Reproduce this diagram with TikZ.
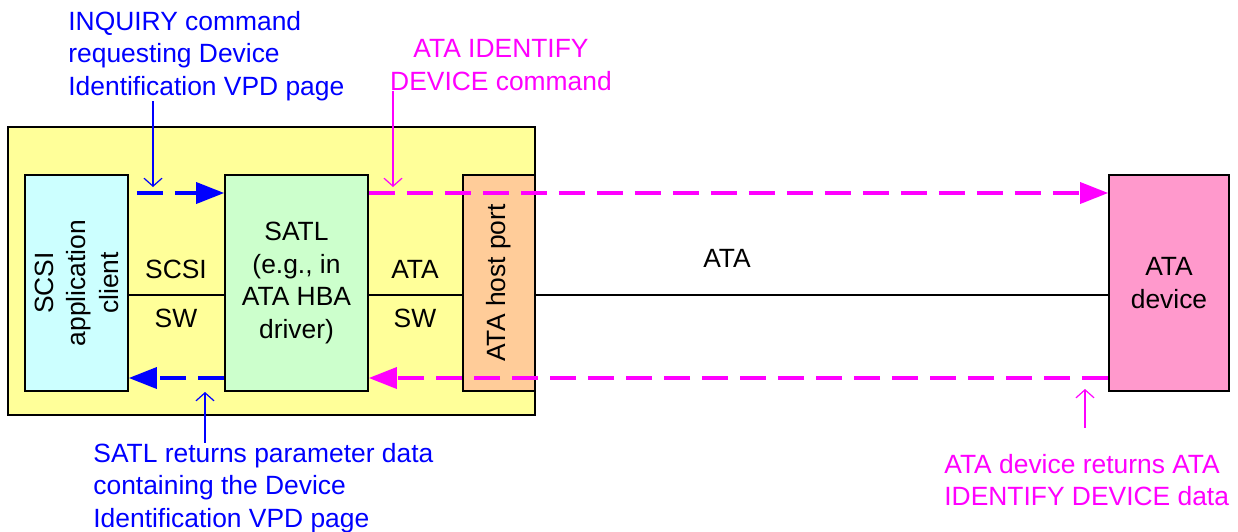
\documentclass[tikz,border=0pt]{standalone}
\usepackage{fontspec}
\setmainfont{Liberation Sans}
\usepackage{tikz}
\usetikzlibrary{arrows.meta, positioning}
\definecolor{hbayellow}{HTML}{FFFF99}
\definecolor{clientcyan}{HTML}{CCFFFF}
\definecolor{satlgreen}{HTML}{CCFFCC}
\definecolor{portorange}{HTML}{FFCC99}
\definecolor{devicepink}{HTML}{FF99CC}
\definecolor{atamagenta}{RGB}{255,0,255}
\definecolor{scsiblue}{RGB}{0,0,255}

\begin{document}
    \begin{tikzpicture}[x=0.5pt, y=-0.5pt,
            every node/.style={font=\fontsize{13.2}{16.25}\selectfont, inner sep=0pt},
            box/.style={draw, line width=0.8pt, minimum height=108pt},
            flow/.style={line width=1.75pt, dash pattern=on 13pt off 6pt, -{Triangle[length=14pt,width=10.5pt]}},
            pointer/.style={line width=0.6pt, -{Straight Barb[length=4pt,width=9pt]}},
            wire/.style={line width=0.65pt}]
        \useasboundingbox (0,0) rectangle (1238,531);
        \node[draw, line width=0.9pt, fill=hbayellow, minimum width=263.5pt, minimum height=144pt] (hba) at (271.5,271) {};
        \node[box, fill=clientcyan, minimum width=51.5pt] (client) at (76.5,283) {};
        \node[rotate=90, align=center] (clienttext) at (client) {SCSI\\application\\client};
        \node[box, fill=satlgreen, minimum width=71.5pt, align=center] (satl) at (296.5,283) {SATL\\(e.g., in\\ATA HBA\\driver)};
        \node[box, fill=portorange, minimum width=36pt] (port) at (499,283) {};
        \node[rotate=90] (porttext) at (port) {ATA host port};
        \node[box, fill=devicepink, minimum width=60pt, align=center] (device) at (1169,283) {ATA\\device};
        \coordinate (top) at (0,193);
        \coordinate (mid) at (0,295);
        \coordinate (bot) at (0,378);
        \draw[wire] (client.east |- mid) -- (satl.west |- mid);
        \draw[wire] (satl.east |- mid) -- (port.west |- mid);
        \draw[wire] (port.east |- mid) -- (device.west |- mid);
        \node[anchor=base] (scsiup) at (176,278) {SCSI};
        \node[anchor=base] (scsidown) at (176,327) {SW};
        \node[anchor=base] (ataup) at (415,278) {ATA};
        \node[anchor=base] (atadown) at (415,327) {SW};
        \node[anchor=base] (atalink) at (727,267) {ATA};
        \draw[flow, scsiblue] ([xshift=4pt]client.east |- top) -- (satl.west |- top);
        \draw[flow, atamagenta] (satl.east |- top) -- (device.west |- top);
        \draw[flow, atamagenta] (device.west |- bot) -- (satl.east |- bot);
        \draw[flow, scsiblue] (satl.west |- bot) -- (client.east |- bot);
        \node[scsiblue, align=left, anchor=west] (inquiry) at (68,56) {INQUIRY command\\requesting Device\\Identification VPD page};
        \node[atamagenta, align=center] (identify) at (501,65) {ATA IDENTIFY\\DEVICE command};
        \node[scsiblue, align=left, anchor=west] (parmdata) at (93,488) {SATL returns parameter data\\containing the Device\\Identification VPD page};
        \node[atamagenta, align=left, anchor=west] (devdata) at (944,480) {ATA device returns ATA\\IDENTIFY DEVICE data};
        \coordinate (inqtip) at (153,187);
        \coordinate (cmdtip) at (393,187);
        \coordinate (parmtip) at (205,392);
        \coordinate (datatip) at (1085,389);
        \draw[pointer, scsiblue] (inquiry.south -| inqtip) -- (inqtip);
        \draw[pointer, atamagenta] (identify.south -| cmdtip) -- (cmdtip);
        \draw[pointer, scsiblue] (parmdata.north -| parmtip) -- (parmtip);
        \draw[pointer, atamagenta, shorten <=13pt] (devdata.north -| datatip) -- (datatip);
    \end{tikzpicture}
\end{document}
